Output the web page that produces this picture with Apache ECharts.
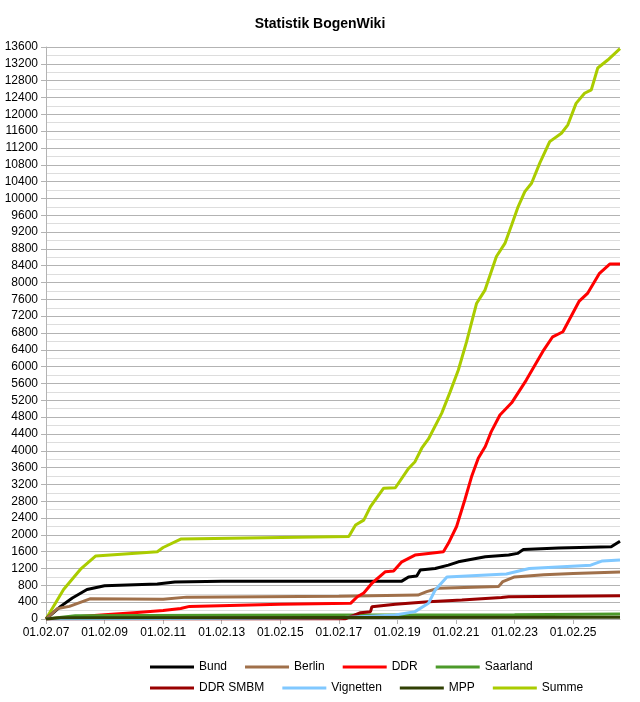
<!DOCTYPE html>
<html><head><meta charset="utf-8">
<script src="https://cdn.jsdelivr.net/npm/echarts@6/dist/echarts.min.js"></script>
<style>body{margin:0;background:#fff}#main{width:640px;height:702px}</style>
</head><body><div id="main"></div>
<script>
// years since 01.02.2007, value
var bund = [[0,0],[0.5,300],[0.9,500],[1.4,700],[2,790],[3.8,830],[4.4,880],[6,900],[12.15,900],[12.38,1000],[12.66,1020],[12.78,1165],[13.29,1200],[13.74,1280],[14.08,1360],[15,1480],[15.8,1520],[16.1,1560],[16.3,1650],[17.5,1690],[19.3,1720],[19.6,1850]];
var berlin = [[0,0],[0.4,250],[0.8,300],[1.5,480],[4,470],[4.8,520],[10,540],[12.7,570],[13,650],[13.4,730],[15.45,770],[15.6,890],[16,1000],[17,1050],[18,1080],[19.6,1120]];
var ddr = [[0,0],[2,100],[3,150],[4,200],[4.6,250],[4.9,300],[8,350],[10.4,373],[10.63,530],[10.85,620],[11.13,850],[11.59,1125],[11.87,1140],[12.15,1360],[12.6,1520],[13.06,1560],[13.57,1600],[13.74,1800],[14.02,2200],[14.3,2830],[14.53,3380],[14.76,3820],[15,4100],[15.2,4450],[15.5,4850],[15.9,5140],[16.4,5680],[17,6400],[17.3,6710],[17.65,6830],[18.2,7550],[18.5,7750],[18.9,8220],[19.25,8440],[19.6,8440]];
var saarland = [[0,0],[1,80],[6,90],[16,100],[19.6,120]];
var ddrSmbm = [[0,0],[10.2,0],[10.4,55],[10.74,150],[11.08,175],[11.13,290],[11.93,350],[13.06,410],[14.2,450],[15.55,510],[15.8,530],[19.6,550]];
var vignetten = [[0,0],[10,30],[11.93,95],[12.6,175],[13.06,373],[13.29,690],[13.69,1000],[15.72,1070],[16.5,1200],[18.6,1280],[19,1380],[19.6,1400]];
var mpp = [[0,0],[0.5,30],[19.6,40]];
var summe = [[0,0],[0.6,700],[1.2,1200],[1.7,1500],[3.8,1600],[4,1700],[4.6,1900],[10.34,1960],[10.57,2235],[10.85,2350],[11.08,2670],[11.53,3110],[11.93,3120],[12.38,3580],[12.6,3740],[12.83,4060],[13.06,4280],[13.51,4890],[13.8,5400],[14.08,5920],[14.36,6590],[14.7,7500],[14.99,7820],[15.38,8620],[15.67,8930],[15.9,9370],[16.12,9800],[16.35,10160],[16.58,10360],[16.86,10840],[17.2,11350],[17.6,11550],[17.82,11750],[18.1,12260],[18.39,12500],[18.62,12580],[18.84,13100],[19.18,13290],[19.6,13560]];

var names = ['Bund','Berlin','DDR','Saarland','DDR SMBM','Vignetten','MPP','Summe'];
var colors = ['#000000','#a0704a','#ff0000','#4c9a2a','#990000','#80c8ff','#314004','#aacc00'];
var datas = [bund,berlin,ddr,saarland,ddrSmbm,vignetten,mpp,summe];

var legendBase = {left:145,itemWidth:44,itemHeight:3,itemGap:18,icon:'rect',
  textStyle:{fontFamily:'Liberation Sans',fontSize:12,color:'#000',width:58}};

var chart = echarts.init(document.getElementById('main'));
chart.setOption({
  animation:false,
  color:colors,
  title:{text:'Statistik BogenWiki',left:'center',top:12,textStyle:{fontFamily:'Liberation Sans',fontSize:14,fontWeight:'bold',color:'#000'}},
  legend:[Object.assign({top:656,data:names.slice(0,4)},legendBase),
          Object.assign({top:677,data:names.slice(4)},legendBase)],
  grid:{left:46,right:20,top:47,bottom:83},
  xAxis:{type:'value',min:0,max:19.6,interval:2,
    axisLine:{onZero:false,lineStyle:{color:'#b3b3b3'}},axisTick:{lineStyle:{color:'#b3b3b3'}},splitLine:{show:false},
    axisLabel:{color:'#000',fontFamily:'Liberation Sans',fontSize:12,showMaxLabel:false,
      formatter:function(v){var y=7+Math.round(v);return '01.02.'+(y<10?'0'+y:y);}}},
  yAxis:{type:'value',min:0,max:13600,interval:400,
    axisLine:{show:true,lineStyle:{color:'#b3b3b3'}},axisTick:{show:true,lineStyle:{color:'#b3b3b3'}},
    splitLine:{lineStyle:{color:'#b3b3b3'}},
    minorTick:{show:false,splitNumber:2},
    minorSplitLine:{show:true,lineStyle:{color:'#dddddd'}},
    axisLabel:{color:'#000',fontFamily:'Liberation Sans',fontSize:12,formatter:function(v){return String(v);}}},
  series:names.map(function(n,i){return {name:n,type:'line',data:datas[i],showSymbol:false,
    lineStyle:{width:3},z:i===7?1:2};})
});
</script></body></html>
